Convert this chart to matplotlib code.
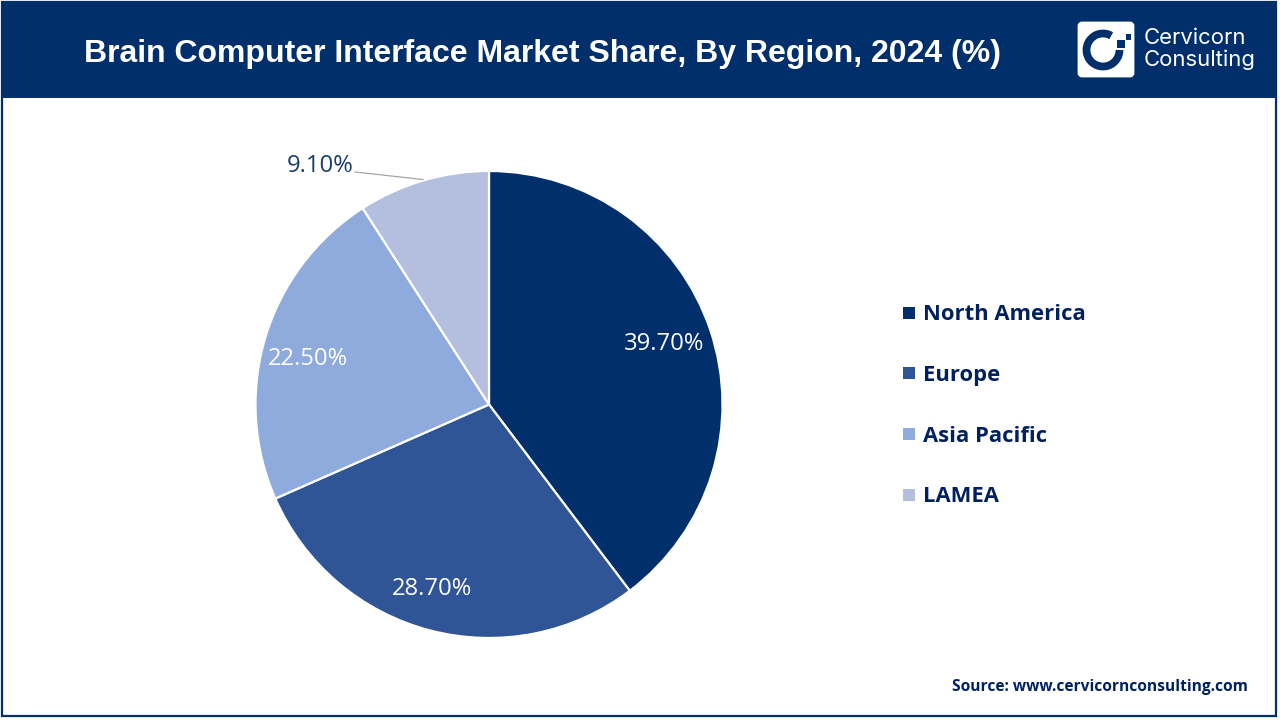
import matplotlib
matplotlib.use("Agg")
import matplotlib.pyplot as plt
from matplotlib.patches import Rectangle, FancyBboxPatch, Arc

title = "Brain Computer Interface Market Share, By Region, 2024 (%)"
regions = ["North America", "Europe", "Asia Pacific", "LAMEA"]
shares = [39.7, 28.7, 22.5, 9.1]
share_labels = ["39.70%", "28.70%", "22.50%", "9.10%"]
colors = ["#002F6C", "#2F5597", "#8FAADC", "#B4BFDF"]
label_colors = ["white", "white", "white", "#1A3D70"]
label_pos = [(664, 344), (432, 589), (308, 359), (320, 166)]
source = "Source: www.cervicornconsulting.com"
NAVY = "#002F6C"
TEXT = "#00205F"

W, H = 1280, 720
fig = plt.figure(figsize=(W / 100, H / 100), dpi=100, facecolor="white")

bg = fig.add_axes([0, 0, 1, 1], zorder=1)
bg.set_xlim(0, W)
bg.set_ylim(H, 0)
bg.axis("off")

# frame and header
bg.add_patch(Rectangle((2, 2), 1274, 714, fc="white", ec=NAVY, lw=1.6))
bg.add_patch(Rectangle((1, 1), 1275, 97, fc=NAVY, ec="none"))
bg.text(543, 54, title, color="white", fontsize=23.05, fontweight="bold",
        family="Liberation Sans", ha="center", va="center")

# logo
bg.add_patch(FancyBboxPatch((1079, 23), 54, 53, boxstyle="round,pad=0,rounding_size=3",
                            fc="white", ec="white", lw=2))
bg.add_patch(Arc((1103, 50), 33, 33, angle=0, theta1=0, theta2=300,
                 color=NAVY, lw=5.6))
bg.add_patch(Rectangle((1117, 40), 8, 8, fc=NAVY, ec="none"))
bg.add_patch(Rectangle((1126, 34), 5, 6, fc=NAVY, ec="none"))
bg.text(1144, 38, "Cervicorn", color="white", fontsize=15.9, family="Inter",
        ha="left", va="center")
bg.text(1144, 60, "Consulting", color="white", fontsize=15.9, family="Inter",
        ha="left", va="center")

# pie
cx, cy, r = 489, 404.5, 233.5
pie_ax = fig.add_axes([(cx - r) / W, 1 - (cy + r) / H, 2 * r / W, 2 * r / H], zorder=2)
pie_ax.pie(shares, colors=colors, startangle=90, counterclock=False, radius=1,
           wedgeprops=dict(edgecolor="white", linewidth=1.6))
pie_ax.set_xlim(-1, 1)
pie_ax.set_ylim(-1, 1)

# overlay for data labels
top = fig.add_axes([0, 0, 1, 1], zorder=3)
top.set_xlim(0, W)
top.set_ylim(H, 0)
top.axis("off")
top.patch.set_alpha(0)

for lab, col, (x, y) in zip(share_labels, label_colors, label_pos):
    top.text(x, y, lab, color=col, fontsize=17.1, family="Open Sans",
             ha="center", va="center")
top.plot([355, 423], [172, 179.5], color="#A6A6A6", lw=0.9)

# legend
legend_y = [313, 373, 434, 495]
for name, col, y in zip(regions, colors, legend_y):
    bg.add_patch(Rectangle((903, y - 6), 12, 12, fc=col, ec="none"))
    bg.text(923, y + 2, name, color=TEXT, fontsize=15.8, fontweight="bold",
            family="Open Sans", ha="left", va="center")

bg.text(1248, 687, source, color=TEXT, fontsize=11.2, fontweight="bold",
        family="Open Sans", ha="right", va="center")

fig.savefig("out.png", dpi=100, facecolor="white")
